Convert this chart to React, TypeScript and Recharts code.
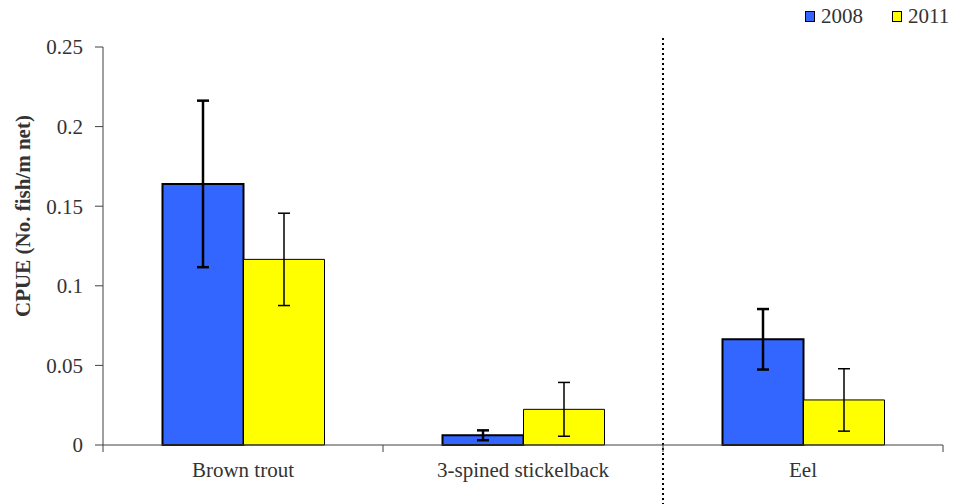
import React from "react";
import { BarChart, Bar, XAxis, YAxis, ErrorBar, ReferenceLine, Label } from "recharts";

// CPUE per species, 2008 vs 2011, with standard error
const species = ["Brown trout", "3-spined stickelback", "Eel"];
const years = ["2008", "2011"];
const cpue2008 = [0.164, 0.0061, 0.0664];
const err2008 = [0.0523, 0.0031, 0.019];
const cpue2011 = [0.1166, 0.0224, 0.0283];
const err2011 = [0.029, 0.0169, 0.0196];
const yTicks = [0, 0.05, 0.1, 0.15, 0.2, 0.25];

const data = species.map((name, i) => ({
    name,
    y2008: cpue2008[i],
    e2008: err2008[i],
    y2011: cpue2011[i],
    e2011: err2011[i],
}));

const FONT = '"Liberation Serif", "Times New Roman", serif';
const TEXT = "#333333";
const AXIS = "#404040";
const colors = ["#3366FF", "#FFFF00"];

// category label plus tick marks on the band edges
const SpeciesTick = ({ x, y, payload, index }: any) => {
    const half = payload?.offset || 0;
    const last = index === species.length - 1;
    return (
        <g>
            <line x1={x - half} x2={x - half} y1={y} y2={y + 7} stroke={AXIS} />
            {last && <line x1={x + half} x2={x + half} y1={y} y2={y + 7} stroke={AXIS} />}
            <text x={x} y={y + 32} textAnchor="middle" fill={TEXT} fontFamily={FONT} fontSize={21}>
                {payload.value}
            </text>
        </g>
    );
};

const YTitle = ({ viewBox }: any) => {
    const cx = viewBox.x + 23;
    const cy = viewBox.y + viewBox.height / 2 - 30;
    return (
        <text
            x={cx}
            y={cy}
            transform={`rotate(-90, ${cx}, ${cy})`}
            textAnchor="middle"
            dominantBaseline="central"
            fill={TEXT}
            fontFamily={FONT}
            fontSize={21}
            fontWeight="bold"
        >
            CPUE (No. fish/m net)
        </text>
    );
};

// dotted divider, running past the plot top and down to the page edge
const Divider = (p: any) => (
    <line
        x1={p.x1}
        x2={p.x2}
        y1={Math.min(p.y1, p.y2) - 9}
        y2={Math.max(p.y1, p.y2) + 59}
        stroke="#000"
        strokeWidth={2}
        strokeDasharray="2 3"
    />
);

export default function App() {
    return (
        <div style={{ position: "relative", width: 955, height: 504, background: "#fff" }}>
            <style>{`body { margin: 0; }`}</style>
            <BarChart
                width={955}
                height={504}
                data={data}
                margin={{ top: 47, right: 12, bottom: 0, left: 0 }}
                barCategoryGap="21.25%"
                barGap={0}
            >
                <XAxis
                    dataKey="name"
                    height={59}
                    tickSize={0}
                    tickMargin={0}
                    tick={<SpeciesTick />}
                    axisLine={{ stroke: AXIS }}
                    interval={0}
                />
                <YAxis
                    width={103}
                    domain={[0, 0.25]}
                    ticks={yTicks}
                    tickSize={8}
                    tickMargin={12}
                    tickLine={{ stroke: AXIS }}
                    axisLine={{ stroke: AXIS }}
                    tick={{ fill: TEXT, fontFamily: FONT, fontSize: 21 }}
                    tickFormatter={(v: number) => String(v)}
                >
                    <Label content={<YTitle />} />
                </YAxis>
                <ReferenceLine x={species[2]} position="start" ifOverflow="visible" shape={Divider} />
                <Bar dataKey="y2008" fill={colors[0]} stroke="#000" strokeWidth={2} isAnimationActive={false}>
                    <ErrorBar dataKey="e2008" width={6} stroke="#000" strokeWidth={2.5} direction="y" />
                </Bar>
                <Bar dataKey="y2011" fill={colors[1]} stroke="#000" strokeWidth={1} isAnimationActive={false}>
                    <ErrorBar dataKey="e2011" width={6} stroke="#000" strokeWidth={1.5} direction="y" />
                </Bar>
            </BarChart>
            <div
                style={{
                    position: "absolute",
                    left: 805,
                    top: 4,
                    display: "flex",
                    alignItems: "center",
                    fontFamily: FONT,
                    fontSize: 21,
                    color: TEXT,
                    lineHeight: "24px",
                }}
            >
                {years.map((yr, i) => (
                    <div key={yr} style={{ display: "flex", alignItems: "center", marginRight: i === 0 ? 29 : 0 }}>
                        <span
                            style={{
                                display: "inline-block",
                                width: 8,
                                height: 9,
                                background: colors[i],
                                border: "1.5px solid #000",
                                marginRight: 6,
                            }}
                        />
                        {yr}
                    </div>
                ))}
            </div>
        </div>
    );
}
